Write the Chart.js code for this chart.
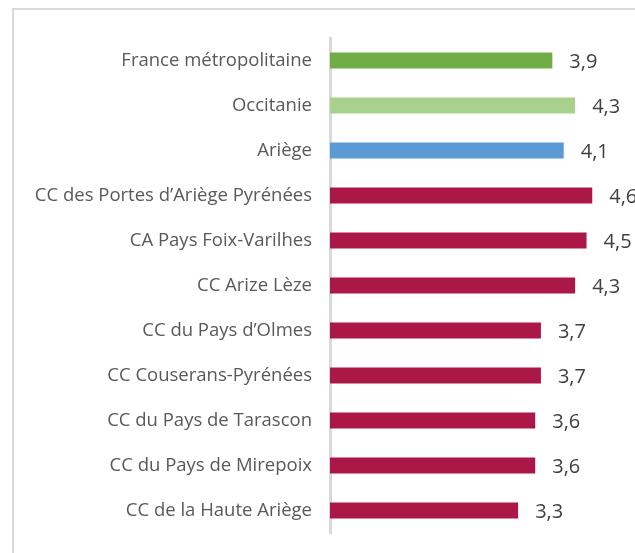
<!DOCTYPE html>
<html>
<head>
<meta charset="utf-8">
<script src="https://cdn.jsdelivr.net/npm/chart.js@4/dist/chart.umd.min.js"></script>
<style>
  html, body { margin: 0; padding: 0; background: #fff; overflow: hidden; }
  #frame {
    position: absolute; left: 12px; top: 8px;
    width: 700px; height: 600px;
    border: 2px solid #d9d9d9; box-sizing: border-box;
  }
  #wrap { position: absolute; left: 0; top: 0; width: 635px; height: 553px; }
</style>
</head>
<body>
<div id="frame"></div>
<div id="wrap"><canvas id="chart" width="635" height="553"></canvas></div>
<script>
const territoires = [
  "France métropolitaine",
  "Occitanie",
  "Ariège",
  "CC des Portes d\u2019Ariège Pyrénées",
  "CA Pays Foix-Varilhes",
  "CC Arize Lèze",
  "CC du Pays d\u2019Olmes",
  "CC Couserans-Pyrénées",
  "CC du Pays de Tarascon",
  "CC du Pays de Mirepoix",
  "CC de la Haute Ariège"
];
const valeurs = [3.9, 4.3, 4.1, 4.6, 4.5, 4.3, 3.7, 3.7, 3.6, 3.6, 3.3];
const couleurs = [
  "#70ad47", "#a9d18e", "#5b9bd5",
  "#ab1747", "#ab1747", "#ab1747", "#ab1747",
  "#ab1747", "#ab1747", "#ab1747", "#ab1747"
];

// value written to the right of each bar, french decimal comma
const etiquettes = {
  id: "etiquettes",
  afterDatasetsDraw(chart) {
    const ctx = chart.ctx;
    const meta = chart.getDatasetMeta(0);
    ctx.save();
    ctx.font = "20px 'Open Sans'";
    ctx.fillStyle = "#404040";
    ctx.textBaseline = "middle";
    ctx.textAlign = "left";
    meta.data.forEach((bar, i) => {
      ctx.fillText(valeurs[i].toFixed(1).replace(".", ","), bar.x + 17, bar.y + 2);
    });
    ctx.restore();
  }
};

new Chart(document.getElementById("chart"), {
  type: "bar",
  data: {
    labels: territoires,
    datasets: [{
      data: valeurs,
      backgroundColor: couleurs,
      barPercentage: 0.71,
      categoryPercentage: 0.5
    }]
  },
  options: {
    indexAxis: "y",
    responsive: false,
    animation: false,
    layout: { padding: { top: 38, bottom: 20, left: 0, right: 0 } },
    plugins: { legend: { display: false }, tooltip: { enabled: false } },
    scales: {
      x: {
        min: 0,
        max: 5.35,
        display: false
      },
      y: {
        afterFit(axis) {
          axis.width = 330;
          axis.paddingTop = 0;
          axis.paddingBottom = 0;
        },
        grid: { display: false, drawTicks: false },
        border: { display: true, color: "#d9d9d9", width: 3 },
        ticks: {
          color: "#595959",
          font: { family: "'Open Sans'", size: 18.5 },
          padding: 18
        }
      }
    }
  },
  plugins: [etiquettes]
});
</script>
</body>
</html>
